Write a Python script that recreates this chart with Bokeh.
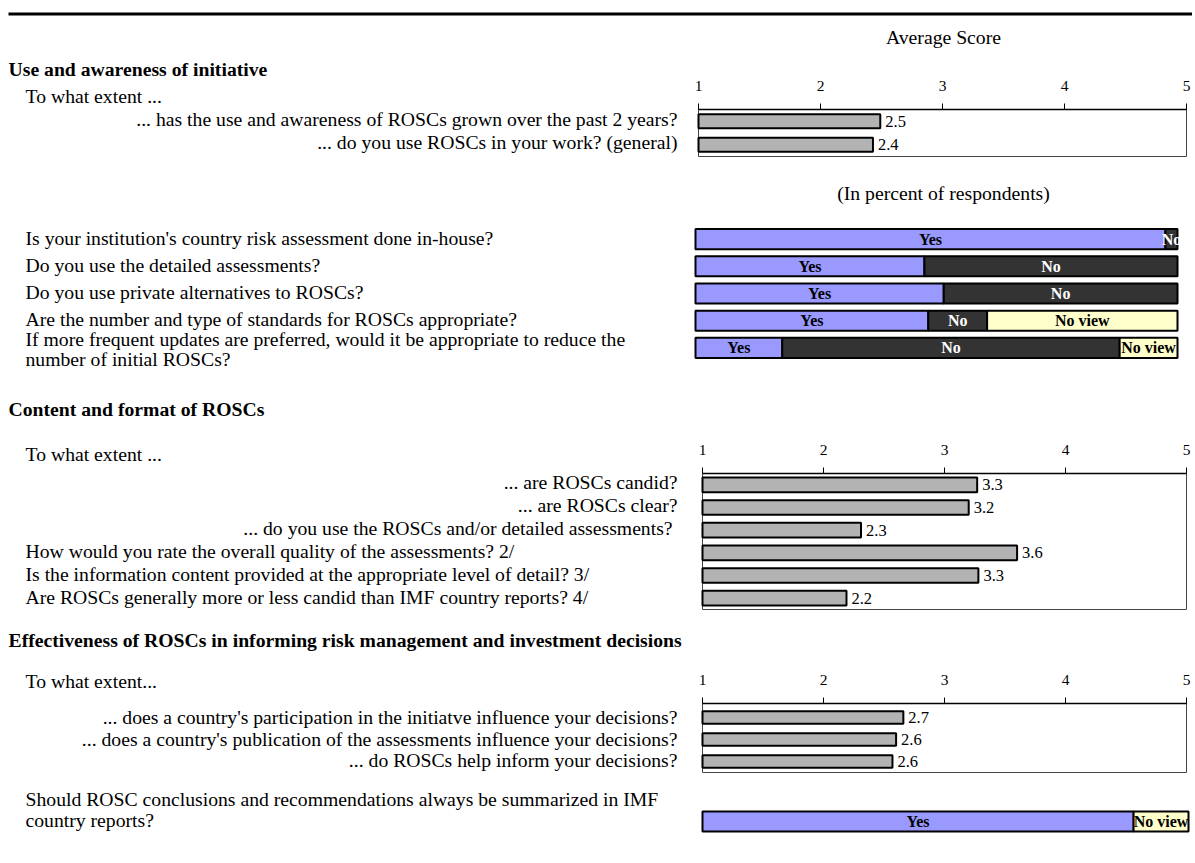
import numpy as np
from bokeh.plotting import figure
from bokeh.models import Range1d, ColumnDataSource
from bokeh.core.properties import value
from bokeh.embed import file_html
from bokeh.resources import INLINE

FONT = "Liberation Serif"

# ---------------- data ----------------
score_ticks = [1, 2, 3, 4, 5]
score_tick_labels = ["1", "2", "3", "4", "5"]

section_titles = [
    "Use and awareness of initiative",
    "Content and format of ROSCs",
    "Effectiveness of ROSCs in informing risk management and investment decisions",
]

use_questions = [
    "... has the use and awareness of ROSCs grown over the past 2 years?",
    "... do you use ROSCs in your work? (general)",
]
use_scores = [2.49, 2.43]

yn_questions = [
    "Is your institution's country risk assessment done in-house?",
    "Do you use the detailed assessments?",
    "Do you use private alternatives to ROSCs?",
    "Are the number and type of standards for ROSCs appropriate?",
    "If more frequent updates are preferred, would it be appropriate to reduce the",
    "number of initial ROSCs?",
]
yn_yes = [97.5, 47.5, 51.5, 48.3, 18.0]
yn_no = [2.5, 52.5, 48.5, 12.2, 70.0]
yn_noview = [0.0, 0.0, 0.0, 39.5, 12.0]

content_questions_right = [
    "... are ROSCs candid?",
    "... are ROSCs clear?",
    "... do you use the ROSCs and/or detailed assessments? ",
]
content_questions_left = [
    "How would you rate the overall quality of the assessments? 2/",
    "Is the information content provided at the appropriate level of detail? 3/",
    "Are ROSCs generally more or less candid than IMF country reports? 4/",
]
content_scores = [3.27, 3.2, 2.31, 3.6, 3.28, 2.19]

eff_questions = [
    "... does a country's participation in the initiatve influence your decisions?",
    "... does a country's publication of the assessments influence your decisions?",
    "... do ROSCs help inform your decisions?",
]
eff_scores = [2.66, 2.6, 2.57]

summary_question = [
    "Should ROSC conclusions and recommendations always be summarized in IMF",
    "country reports?",
]
summary_yes = [88.7]
summary_no = [0.0]
summary_noview = [11.3]

seg_names = ["Yes", "No", "No view"]
seg_fill = ["#9999FF", "#333333", "#FFFFCC"]
seg_text = ["black", "white", "black"]

# ---------------- figure ----------------
W, H = 1192, 858
p = figure(width=W, height=H, x_range=Range1d(0, W), y_range=Range1d(H, 0),
           output_backend="svg", toolbar_location=None,
           x_axis_location=None, y_axis_location=None, min_border=0)
p.grid.visible = False
p.outline_line_color = None
p.background_fill_color = "white"
p.border_fill_color = "white"

Q_SIZE = "19.7px"
DY = -1.5


def txt(xs, ys, texts, align="left", size=Q_SIZE, style="normal", color="black"):
    p.text(x=xs, y=[y + DY for y in ys], text=texts, text_align=align,
           text_baseline="middle", text_font=value(FONT), text_font_size=size,
           text_font_style=style, text_color=color)


# top rule
p.segment(x0=[8], y0=[13.5], x1=[W], y1=[13.5], line_color="black", line_width=3)

# headers
txt([943], [38], ["Average Score"], align="center")
txt([943], [194], ["(In percent of respondents)"], align="center")
txt([8, 8, 8], [70, 410, 641], section_titles, style="bold")


def score_panel(x0, x1, axis_y, bottom, values, pad=0.0, bar_h=0.6):
    n = len(values)
    sp = p.subplot(x_source=Range1d(1, 5), y_source=Range1d(-pad, n),
                   x_target=Range1d(x0, x1), y_target=Range1d(axis_y, bottom))
    ppu = (bottom - axis_y) / (n + pad)
    top = -pad
    # frame
    sp.quad(left=[score_ticks[0]], right=[score_ticks[-1]], top=[top], bottom=[n],
            fill_color=None, line_color="#444444", line_width=1)
    sp.segment(x0=[score_ticks[0]], y0=[top], x1=[score_ticks[-1]], y1=[top],
               line_color="black", line_width=1.5)
    # ticks
    sp.segment(x0=score_ticks, y0=[top] * 5, x1=score_ticks,
               y1=[top - 6 / ppu] * 5, line_color="black", line_width=1)
    sp.text(x=score_ticks, y=[top - 24 / ppu] * 5, text=score_tick_labels,
            text_align="center", text_baseline="middle", text_font=value(FONT),
            text_font_size="15.5px")
    rows = np.arange(n) + 0.5
    src = ColumnDataSource(dict(y=rows, v=values, lab=[f"{v:.1f}" for v in values]))
    sp.hbar(y="y", left=score_ticks[0], right="v", height=bar_h, source=src,
            fill_color="#B3B3B3", line_color="black", line_width=2)
    sp.text(x="v", y="y", text="lab", source=src, x_offset=5, text_align="left",
            text_baseline="middle", text_font=value(FONT), text_font_size="16.5px")


def pct_panel(x0, x1, top, bottom, yes, no, noview, bar_h=0.74):
    n = len(yes)
    sp = p.subplot(x_source=Range1d(0, 100), y_source=Range1d(0, n),
                   x_target=Range1d(x0, x1), y_target=Range1d(top, bottom))
    rows = np.arange(n) + 0.5
    series = [np.array(yes), np.array(no), np.array(noview)]
    left = np.zeros(n)
    for s, name, fc, tc in zip(series, seg_names, seg_fill, seg_text):
        right = left + s
        mask = s > 0
        src = ColumnDataSource(dict(y=rows[mask], l=left[mask], r=right[mask],
                                    m=((left + right) / 2)[mask],
                                    t=[name] * int(mask.sum())))
        sp.hbar(y="y", left="l", right="r", height=bar_h, source=src,
                fill_color=fc, line_color="black", line_width=2)
        sp.text(x="m", y="y", text="t", source=src, text_align="center",
                text_baseline="middle", text_font=value(FONT), text_font_size="16px",
                text_font_style="bold", text_color=tc)
        left = right


# ---- section 1
txt([25], [97], ["To what extent ..."])
txt([677, 677], [120, 143], use_questions, align="right")
score_panel(698, 1186, 109, 156, use_scores)

txt([25] * 6, [239, 266, 293, 320, 340, 360], yn_questions)
pct_panel(695, 1177, 225, 361, yn_yes, yn_no, yn_noview)

# ---- section 2
txt([25], [455], ["To what extent ..."])
txt([677] * 3, [483, 506, 529], content_questions_right, align="right")
txt([25] * 3, [552, 575, 598], content_questions_left)
score_panel(702, 1186, 473, 609, content_scores, bar_h=0.65)

# ---- section 3
txt([25], [682], ["To what extent..."])
txt([677] * 3, [718, 740, 761], eff_questions, align="right")
score_panel(702, 1186, 703, 772, eff_scores, pad=0.14, bar_h=0.57)

txt([25, 25], [800, 821], summary_question)
pct_panel(702, 1188, 811, 831, summary_yes, summary_no, summary_noview, bar_h=1.0)

open("out.html", "w").write(file_html(p, INLINE))
